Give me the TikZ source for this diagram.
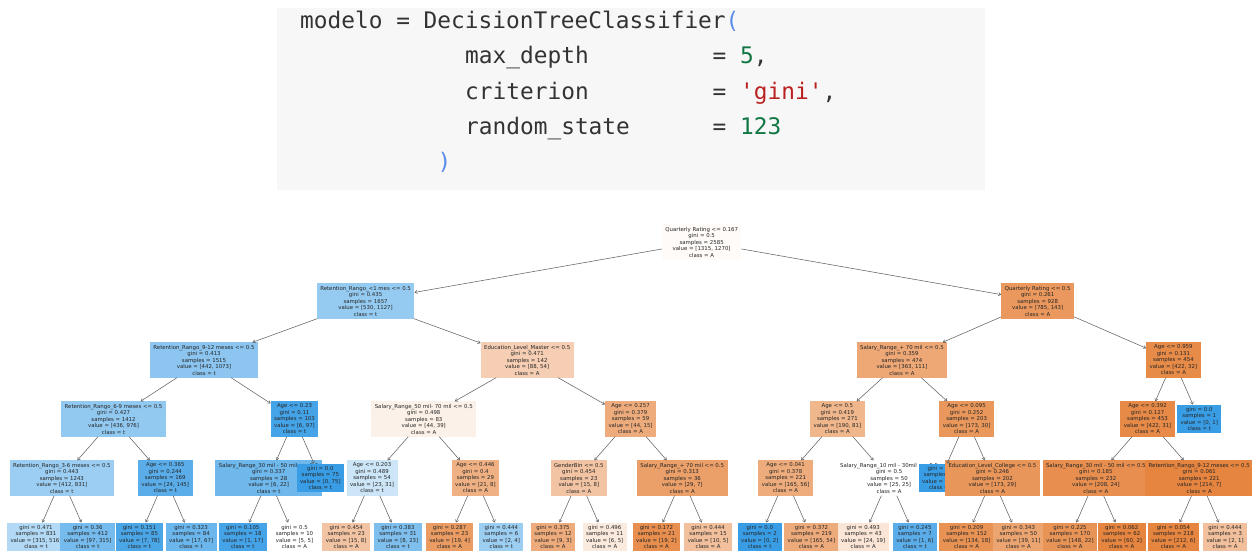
\documentclass[tikz,border=0pt]{standalone}
\usepackage{fontspec}
\setmainfont{DejaVu Sans}
\newfontfamily\codefont{DejaVu Sans Mono}
\usetikzlibrary{arrows.meta}

\definecolor{clsA}{RGB}{229,129,57}
\definecolor{clsT}{RGB}{57,157,229}
\definecolor{codebg}{RGB}{247,247,247}
\definecolor{codefg}{RGB}{51,51,51}
\definecolor{codenum}{RGB}{17,119,68}
\definecolor{codestr}{RGB}{186,33,33}
\definecolor{codebrk}{RGB}{90,140,235}
\definecolor{edgegray}{RGB}{100,100,100}

\tikzset{
  tn/.style={rectangle, inner xsep=3.5pt, inner ysep=2.6pt, outer sep=0pt,
    align=center, font=\fontsize{5.4}{6.5}\selectfont, text=black!85},
  ca/.style={tn, fill=clsA!#1!white},
  ct/.style={tn, fill=clsT!#1!white},
  br/.style={draw=edgegray, line width=0.55pt,
    -{Straight Barb[length=2.4pt,width=3.2pt]}},
  codeline/.style={anchor=base west, inner sep=0pt,
    font=\codefont\fontsize{22.8}{27}\selectfont, text=codefg},
}

\begin{document}
\begin{tikzpicture}[x=1pt, y=-1pt]
\useasboundingbox (0,0) rectangle (1252,550);
\clip (0,0) rectangle (1252,550);
\fill[white] (0,0) rectangle (1252,550);

% code cell
\fill[codebg] (277,8) rectangle (985,190);
\node[codeline] (c1) at (300,28.5) {modelo = DecisionTreeClassifier\textcolor{codebrk}{(}};
\node[codeline] (c2a) at (465,63.8) {max\_depth};
\node[codeline] (c2b) at (712.5,63.8) {= \textcolor{codenum}{5},};
\node[codeline] (c3a) at (465,99.1) {criterion};
\node[codeline] (c3b) at (712.5,99.1) {= \textcolor{codestr}{'gini'},};
\node[codeline] (c4a) at (465,134.4) {random\_state};
\node[codeline] (c4b) at (712.5,134.4) {= \textcolor{codenum}{123}};
\node[codeline] (c5) at (437.5,169.7) {\textcolor{codebrk}{)}};

% decision tree
\begin{scope}[x=51.7pt, xshift=36pt]
% depth 0
\node[ca=3.4] (n0) at (12.875,242) {Quarterly Rating <= 0.167\\gini = 0.5\\samples = 2585\\value = [1315, 1270]\\class = A};
% depth 1
\node[ct=53] (n1) at (6.375,301) {Retention\_Rango\_<1 mes <= 0.5\\gini = 0.435\\samples = 1657\\value = [530, 1127]\\class = t};
\node[ca=81.8] (n2) at (19.375,301) {Quarterly Rating <= 0.5\\gini = 0.261\\samples = 928\\value = [785, 143]\\class = A};
% depth 2
\node[ct=58.8] (n3) at (3.25,360) {Retention\_Rango\_9-12 meses <= 0.5\\gini = 0.413\\samples = 1515\\value = [442, 1073]\\class = t};
\node[ca=38.6] (n4) at (9.5,360) {Education\_Level\_Master <= 0.5\\gini = 0.471\\samples = 142\\value = [88, 54]\\class = A};
\node[ca=69.4] (n5) at (16.75,360) {Salary\_Range\_+ 70 mil <= 0.5\\gini = 0.359\\samples = 474\\value = [363, 111]\\class = A};
\node[ca=92.4] (n6) at (22,360) {Age <= 0.959\\gini = 0.131\\samples = 454\\value = [422, 32]\\class = A};
% depth 3
\node[ct=55.3] (n7) at (1.5,419) {Retention\_Rango\_6-9 meses <= 0.5\\gini = 0.427\\samples = 1412\\value = [436, 976]\\class = t};
\node[ct=93.8] (n8) at (5,419) {Age <= 0.23\\gini = 0.11\\samples = 103\\value = [6, 97]\\class = t};
\node[ca=11.4] (n9) at (7.5,419) {Salary\_Range\_50 mil- 70 mil <= 0.5\\gini = 0.498\\samples = 83\\value = [44, 39]\\class = A};
\node[ca=65.9] (n10) at (11.5,419) {Age <= 0.257\\gini = 0.379\\samples = 59\\value = [44, 15]\\class = A};
\node[ca=57.4] (n11) at (15.5,419) {Age <= 0.5\\gini = 0.419\\samples = 271\\value = [190, 81]\\class = A};
\node[ca=82.7] (n12) at (18,419) {Age <= 0.095\\gini = 0.252\\samples = 203\\value = [173, 30]\\class = A};
\node[ca=92.7] (n13) at (21.5,419) {Age <= 0.392\\gini = 0.127\\samples = 453\\value = [422, 31]\\class = A};
\node[ct=100] (n14) at (22.5,419) {gini = 0.0\\samples = 1\\value = [0, 1]\\class = t};
% depth 4
\node[ct=50.4] (n15) at (0.5,478) {Retention\_Rango\_3-6 meses <= 0.5\\gini = 0.443\\samples = 1243\\value = [412, 831]\\class = t};
\node[ct=83.4] (n16) at (2.5,478) {Age <= 0.365\\gini = 0.244\\samples = 169\\value = [24, 145]\\class = t};
\node[ct=72.7] (n17) at (4.5,478) {Salary\_Range\_30 mil - 50 mil <= 0.5\\gini = 0.337\\samples = 28\\value = [6, 22]\\class = t};
\node[ct=100] (n18) at (5.5,478) {gini = 0.0\\samples = 75\\value = [0, 75]\\class = t};
\node[ct=25.8] (n19) at (6.5,478) {Age <= 0.203\\gini = 0.489\\samples = 54\\value = [23, 31]\\class = t};
\node[ca=61.9] (n20) at (8.5,478) {Age <= 0.446\\gini = 0.4\\samples = 29\\value = [21, 8]\\class = A};
\node[ca=46.7] (n21) at (10.5,478) {GenderBin <= 0.5\\gini = 0.454\\samples = 23\\value = [15, 8]\\class = A};
\node[ca=75.9] (n22) at (12.5,478) {Salary\_Range\_+ 70 mil <= 0.5\\gini = 0.313\\samples = 36\\value = [29, 7]\\class = A};
\node[ca=66.1] (n23) at (14.5,478) {Age <= 0.041\\gini = 0.378\\samples = 221\\value = [165, 56]\\class = A};
\node[ca=0] (n24) at (16.5,478) {Salary\_Range\_10 mil - 30mil <= 0.5\\gini = 0.5\\samples = 50\\value = [25, 25]\\class = A};
\node[ct=100] (n25) at (17.5,478) {gini = 0.0\\samples = 1\\value = [0, 1]\\class = t};
\node[ca=83.2] (n26) at (18.5,478) {Education\_Level\_College <= 0.5\\gini = 0.246\\samples = 202\\value = [173, 29]\\class = A};
\node[ca=88.5] (n27) at (20.5,478) {Salary\_Range\_30 mil - 50 mil <= 0.5\\gini = 0.185\\samples = 232\\value = [208, 24]\\class = A};
\node[ca=96.7] (n28) at (22.5,478) {Retention\_Rango\_9-12 meses <= 0.5\\gini = 0.061\\samples = 221\\value = [214, 7]\\class = A};
% depth 5 (leaves)
\node[ct=39]   (l0)  at (0,537)  {gini = 0.471\\samples = 831\\value = [315, 516]\\class = t};
\node[ct=69.2] (l1)  at (1,537)  {gini = 0.36\\samples = 412\\value = [97, 315]\\class = t};
\node[ct=91]   (l2)  at (2,537)  {gini = 0.151\\samples = 85\\value = [7, 78]\\class = t};
\node[ct=74.6] (l3)  at (3,537)  {gini = 0.323\\samples = 84\\value = [17, 67]\\class = t};
\node[ct=94.1] (l4)  at (4,537)  {gini = 0.105\\samples = 18\\value = [1, 17]\\class = t};
\node[ca=0]    (l5)  at (5,537)  {gini = 0.5\\samples = 10\\value = [5, 5]\\class = A};
\node[ca=46.7] (l6)  at (6,537)  {gini = 0.454\\samples = 23\\value = [15, 8]\\class = A};
\node[ct=65.2] (l7)  at (7,537)  {gini = 0.383\\samples = 31\\value = [8, 23]\\class = t};
\node[ca=78.9] (l8)  at (8,537)  {gini = 0.287\\samples = 23\\value = [19, 4]\\class = A};
\node[ct=50]   (l9)  at (9,537)  {gini = 0.444\\samples = 6\\value = [2, 4]\\class = t};
\node[ca=66.7] (l10) at (10,537) {gini = 0.375\\samples = 12\\value = [9, 3]\\class = A};
\node[ca=16.7] (l11) at (11,537) {gini = 0.496\\samples = 11\\value = [6, 5]\\class = A};
\node[ca=89.5] (l12) at (12,537) {gini = 0.172\\samples = 21\\value = [19, 2]\\class = A};
\node[ca=50]   (l13) at (13,537) {gini = 0.444\\samples = 15\\value = [10, 5]\\class = A};
\node[ct=100]  (l14) at (14,537) {gini = 0.0\\samples = 2\\value = [0, 2]\\class = t};
\node[ca=67.3] (l15) at (15,537) {gini = 0.372\\samples = 219\\value = [165, 54]\\class = A};
\node[ca=20.8] (l16) at (16,537) {gini = 0.493\\samples = 43\\value = [24, 19]\\class = A};
\node[ct=83.3] (l17) at (17,537) {gini = 0.245\\samples = 7\\value = [1, 6]\\class = t};
\node[ca=86.6] (l18) at (18,537) {gini = 0.209\\samples = 152\\value = [134, 18]\\class = A};
\node[ca=71.8] (l19) at (19,537) {gini = 0.343\\samples = 50\\value = [39, 11]\\class = A};
\node[ca=85.1] (l20) at (20,537) {gini = 0.225\\samples = 170\\value = [148, 22]\\class = A};
\node[ca=96.7] (l21) at (21,537) {gini = 0.062\\samples = 62\\value = [60, 2]\\class = A};
\node[ca=97.2] (l22) at (22,537) {gini = 0.054\\samples = 218\\value = [212, 6]\\class = A};
\node[ca=50]   (l23) at (23,537) {gini = 0.444\\samples = 3\\value = [2, 1]\\class = A};
\end{scope}

% branches
\foreach \p/\c in {n0/n1, n0/n2, n1/n3, n1/n4, n2/n5, n2/n6,
    n3/n7, n3/n8, n4/n9, n4/n10, n5/n11, n5/n12, n6/n13, n6/n14,
    n7/n15, n7/n16, n8/n17, n8/n18, n9/n19, n9/n20, n10/n21, n10/n22,
    n11/n23, n11/n24, n12/n25, n12/n26, n13/n27, n13/n28,
    n15/l0, n15/l1, n16/l2, n16/l3, n17/l4, n17/l5, n19/l6, n19/l7,
    n20/l8, n20/l9, n21/l10, n21/l11, n22/l12, n22/l13, n23/l14, n23/l15,
    n24/l16, n24/l17, n26/l18, n26/l19, n27/l20, n27/l21, n28/l22, n28/l23}
  \draw[br] (\p) -- (\c);
\end{tikzpicture}
\end{document}
